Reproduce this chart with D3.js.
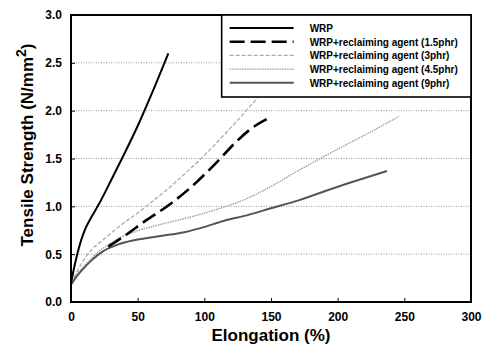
<!DOCTYPE html>
<html>
<head>
<meta charset="utf-8">
<script src="https://cdn.jsdelivr.net/npm/d3@7"></script>
<style>
body { margin: 0; background: #fff; }
text { font-family: "Liberation Sans", Arial, sans-serif; font-weight: bold; }
</style>
</head>
<body>
<svg width="489" height="349"></svg>
<script>
// elongation (%) and tensile strength (N/mm2)
var wrp = [[0,0.2],[3,0.4],[6,0.57],[10,0.74],[15,0.88],[20,1.0],[30,1.27],[40,1.55],[50,1.84],[60,2.16],[73,2.6]];
var agent15 = [[28,0.58],[40,0.69],[55,0.84],[75,1.03],[94,1.25],[100,1.33],[110,1.47],[120,1.62],[134,1.8],[148,1.92]];
var agent3 = [[0,0.2],[5,0.33],[10,0.45],[15,0.54],[25,0.66],[37,0.8],[50,0.93],[60,1.04],[75,1.21],[90,1.4],[102,1.56],[115,1.75],[125,1.9],[139,2.12],[150,2.3]];
var agent45 = [[0,0.2],[5,0.3],[10,0.38],[15,0.45],[20,0.52],[25,0.57],[35,0.66],[49,0.74],[67,0.81],[90,0.89],[112,0.98],[130,1.07],[149,1.2],[170,1.37],[199,1.59],[225,1.78],[246,1.94]];
var agent9 = [[0,0.18],[5,0.28],[10,0.36],[15,0.43],[20,0.49],[24,0.53],[35,0.6],[49,0.65],[67,0.69],[85,0.73],[99,0.78],[115,0.85],[130,0.9],[150,0.98],[170,1.06],[199,1.2],[237,1.37]];

var seriesNames = ["WRP", "WRP+reclaiming agent (1.5phr)", "WRP+reclaiming agent (3phr)",
                   "WRP+reclaiming agent (4.5phr)", "WRP+reclaiming agent (9phr)"];
var xTicks = [0, 50, 100, 150, 200, 250, 300];
var yTicks = [0, 0.5, 1.0, 1.5, 2.0, 2.5, 3.0];

var styles = [
    {stroke: "#000", width: 2, dash: null},
    {stroke: "#000", width: 2.6, dash: "15,6"},
    {stroke: "#aaa", width: 1.3, dash: "4,2"},
    {stroke: "#999", width: 1.3, dash: "1.5,1"},
    {stroke: "#555", width: 2, dash: null}
];

var margin = {top: 15, right: 18, bottom: 47, left: 71},
    svg = d3.select("svg"),
    width = 489 - margin.left - margin.right,
    height = 349 - margin.top - margin.bottom;

var x = d3.scaleLinear().domain([0, 300]).range([0, width]);
var y = d3.scaleLinear().domain([0, 3]).range([height, 0]);

var g = svg.append("g").attr("transform", "translate(" + margin.left + "," + margin.top + ")");

// dotted grid
g.selectAll(".grid")
    .data(yTicks.slice(1, -1))
    .enter().append("line")
    .attr("x1", 0).attr("x2", width)
    .attr("y1", function(d) { return y(d); })
    .attr("y2", function(d) { return y(d); })
    .style("stroke", "#999")
    .style("stroke-width", 1)
    .style("stroke-dasharray", "1,1.5");

// curves
var line = d3.line()
    .x(function(d) { return x(d[0]); })
    .y(function(d) { return y(d[1]); })
    .curve(d3.curveMonotoneX);

var allSeries = [wrp, agent15, agent3, agent45, agent9];
[3, 2, 4, 1, 0].forEach(function(i) {
    g.append("path")
        .attr("d", line(allSeries[i]))
        .style("fill", "none")
        .style("stroke", styles[i].stroke)
        .style("stroke-width", styles[i].width)
        .style("stroke-dasharray", styles[i].dash);
});

// axes with inward ticks
var xAxis = g.append("g")
    .attr("transform", "translate(0," + height + ")")
    .call(d3.axisBottom(x).tickValues(xTicks).tickSize(-4).tickPadding(10).tickFormat(d3.format("d")));
var yAxis = g.append("g")
    .call(d3.axisLeft(y).tickValues(yTicks).tickSize(-4).tickPadding(9).tickFormat(d3.format(".1f")));

[xAxis, yAxis].forEach(function(a) {
    a.select(".domain").remove();
    a.selectAll(".tick line").style("stroke", "#000").style("stroke-width", 1);
    a.selectAll("text").style("font-size", "12px").style("font-weight", "bold")
        .style("font-family", "'Liberation Sans', Arial, sans-serif").attr("fill", "#000");
});

// frame
g.append("rect")
    .attr("width", width).attr("height", height)
    .style("fill", "none").style("stroke", "#000").style("stroke-width", 2);

// legend
var legendX = x(113), legendW = width - x(113);
var legendG = g.append("g");
legendG.append("rect")
    .attr("x", legendX).attr("y", 0)
    .attr("width", legendW).attr("height", 82)
    .style("fill", "#fff").style("stroke", "#000").style("stroke-width", 1.6);

var legend = legendG.selectAll(".legend")
    .data(seriesNames)
    .enter().append("g")
    .attr("class", "legend")
    .attr("transform", function(d, i) { return "translate(" + (legendX + 8) + "," + (13 + i * 13.7) + ")"; });

legend.append("line")
    .attr("x1", 0).attr("x2", 64)
    .style("stroke", function(d, i) { return styles[i].stroke; })
    .style("stroke-width", function(d, i) { return styles[i].width; })
    .style("stroke-dasharray", function(d, i) { return styles[i].dash; });

legend.append("text")
    .attr("x", 80).attr("y", 4)
    .style("font-size", "10px")
    .text(function(d) { return d; });

// axis titles
svg.append("text")
    .attr("x", margin.left + width / 2).attr("y", 341)
    .attr("text-anchor", "middle")
    .style("font-size", "17px")
    .text("Elongation (%)");

var yt = svg.append("text")
    .attr("transform", "translate(33," + 145 + ") rotate(-90)")
    .attr("text-anchor", "middle")
    .style("font-size", "17px");
yt.append("tspan").text("Tensile Strength (N/mm");
yt.append("tspan").attr("dy", -7).style("font-size", "14px").text("2");
yt.append("tspan").attr("dy", 7).text(")");
</script>
</body>
</html>
